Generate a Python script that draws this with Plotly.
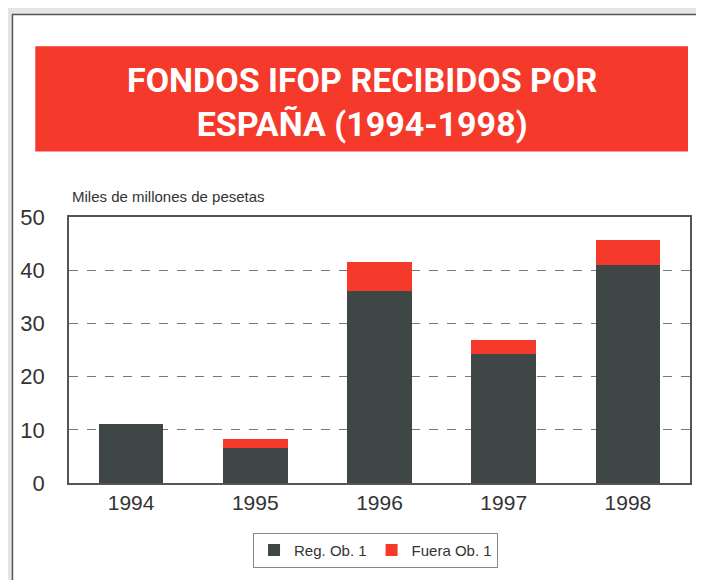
import plotly.graph_objects as go

years = ["1994", "1995", "1996", "1997", "1998"]
reg_ob1 = [11.0, 6.5, 36.1, 24.3, 40.9]
fuera_ob1 = [0.0, 1.7, 5.5, 2.5, 4.8]
y_ticks = [0, 10, 20, 30, 40, 50]

title_text = "FONDOS IFOP RECIBIDOS POR<br>ESPAÑA (1994-1998)"
unit_text = "Miles de millones de pesetas"

OFF = 8  # page body margin offset
W, H = 704 - OFF, 580 - OFF
# desired page coordinates of plot area
PL, PR, PT, PB = 66, 692, 217, 485
L = PL - OFF
T = PT - OFF
R = W - (PR - OFF)
B = H - (PB - OFF)
PW, PH = PR - PL, PB - PT

def px(x):
    return (x - PL) / PW

def py(y):
    return (PB - y) / PH

DARK = "#3e4646"
RED = "#f5392b"

fig = go.Figure()
fig.add_trace(go.Bar(x=years, y=reg_ob1, name="Reg. Ob. 1",
                     marker=dict(color=DARK, line=dict(width=0))))
fig.add_trace(go.Bar(x=years, y=fuera_ob1, name="Fuera Ob. 1",
                     marker=dict(color=RED, line=dict(width=0))))

fig.update_layout(
    width=W, height=H,
    margin=dict(l=L, r=R, t=T, b=B, pad=0),
    barmode="stack",
    bargap=0.48,
    paper_bgcolor="#e7e4e4",
    plot_bgcolor="rgba(0,0,0,0)",
    font=dict(family="Liberation Sans, Arial, sans-serif", color="#333"),
    showlegend=True,
    legend=dict(orientation="h", x=px(375), xanchor="center", y=py(535), yanchor="top",
                bgcolor="white", bordercolor="#888", borderwidth=1,
                font=dict(size=15, color="#333"), traceorder="normal"),
    xaxis=dict(showgrid=False, showline=True, mirror=True, linecolor="#555", linewidth=1.5,
               ticks="", tickfont=dict(size=21, color="#333")),
    yaxis=dict(range=[0, 50], tickvals=y_ticks, showgrid=True, gridcolor="#777",
               griddash="dash", gridwidth=1, showline=True, mirror=True,
               linecolor="#555", linewidth=1.5, ticks="", zeroline=False,
               tickfont=dict(size=22, color="#333"), ticklabelstandoff=18),
    shapes=[
        dict(type="rect", xref="paper", yref="paper", layer="below",
             x0=px(9), x1=px(730), y0=py(620), y1=py(13),
             fillcolor="white", line=dict(color="#555", width=1.5)),
        dict(type="rect", xref="paper", yref="paper", layer="below",
             x0=px(32), x1=px(690), y0=py(151), y1=py(45),
             fillcolor=RED, line=dict(width=0)),
    ],
    annotations=[
        dict(text=title_text, xref="paper", yref="paper", x=px(361), y=py(101),
             xanchor="center", yanchor="middle", showarrow=False, align="center",
             font=dict(family="Roboto, sans-serif", size=34, color="white", weight="bold")),
        dict(text=unit_text, xref="paper", yref="paper", x=px(67), y=py(196),
             xanchor="left", yanchor="middle", showarrow=False,
             font=dict(size=15, color="#333")),
    ],
)

fig.write_html("out.html")
